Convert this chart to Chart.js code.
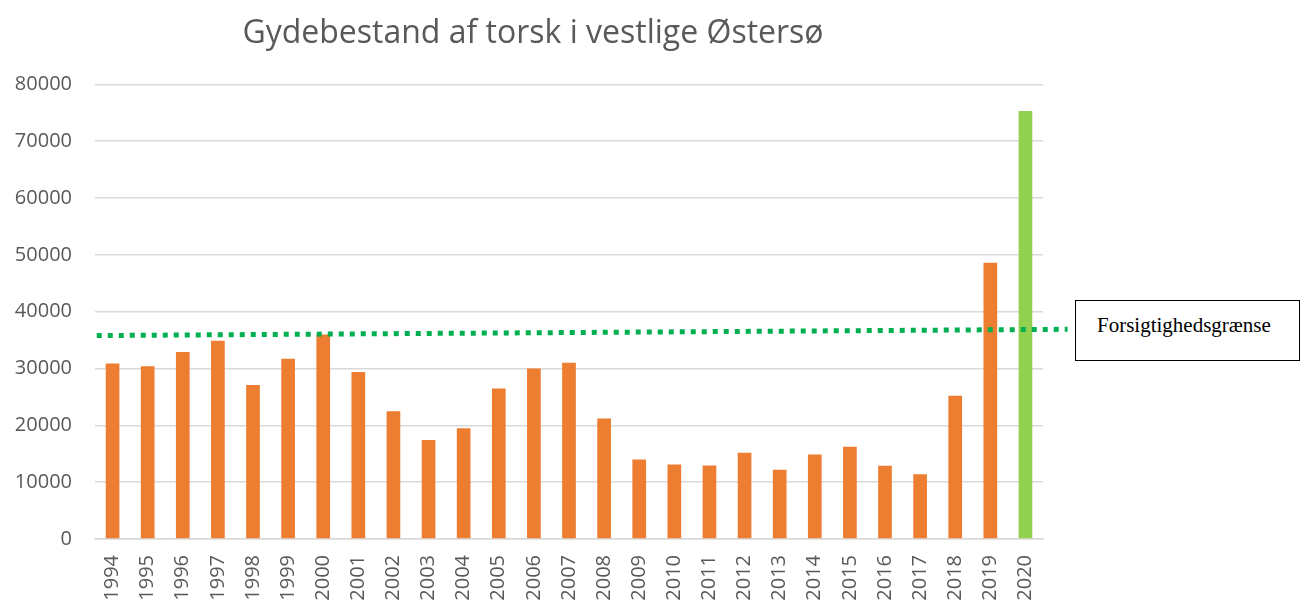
<!DOCTYPE html>
<html>
<head>
<meta charset="utf-8">
<script src="https://cdn.jsdelivr.net/npm/chart.js@4/dist/chart.umd.min.js"></script>
<style>
  body { margin: 0; background: #fff; }
  #wrap { position: relative; width: 1307px; height: 601px; overflow: hidden; }
  #box { position: absolute; left: 1075px; top: 300px; width: 225px; height: 61px;
         border: 1.5px solid #000; box-sizing: border-box; background: #fff;
         font-family: "Liberation Serif", "Times New Roman", serif; font-size: 21px;
         color: #000; padding: 12px 0 0 21px; }
</style>
</head>
<body>
<div id="wrap">
  <div style="position:absolute;left:0;top:0;width:1072px;height:601px;">
    <canvas id="chart"></canvas>
  </div>
  <div id="box">Forsigtighedsgrænse</div>
</div>
<script>
// gydebestand (tons) pr. år
var years = ['1994', '1995', '1996', '1997', '1998', '1999', '2000', '2001', '2002',
	'2003', '2004', '2005', '2006', '2007', '2008', '2009', '2010', '2011', '2012',
	'2013', '2014', '2015', '2016', '2017', '2018', '2019', '2020'];
var biomass = [30900, 30400, 32900, 34900, 27100, 31700, 36000, 29400, 22500,
	17400, 19500, 26500, 30000, 31000, 21200, 14000, 13100, 12950, 15200,
	12200, 14850, 16250, 12900, 11400, 25200, 48600, 75300];
// forsigtighedsgrænse, drawn across the whole plot
var limitYears = [1993.55, 2021.2];
var limitValues = [35800, 36900];
var yTicks = [0, 10000, 20000, 30000, 40000, 50000, 60000, 70000, 80000];

var barColors = years.map(function(y) {
	return y === '2020' ? '#92D050' : '#ED7D31';
});

var ctx = document.getElementById('chart');
new Chart(ctx, {
	type: 'bar',
	data: {
		labels: years,
		datasets: [
			{
				type: 'line',
				xAxisID: 'x2',
				order: 0,
				data: limitYears.map(function(x, i) { return {x: x, y: limitValues[i]}; }),
				borderColor: '#00B050',
				borderWidth: 5,
				borderDash: [5, 6],
				borderCapStyle: 'butt',
				pointRadius: 0,
				fill: false,
				clip: false
			},
			{
				order: 1,
				grouped: false,
				data: biomass,
				backgroundColor: barColors,
				barPercentage: 0.39,
				categoryPercentage: 1
			}
		]
	},
	options: {
		responsive: true,
		maintainAspectRatio: false,
		animation: false,
		layout: { padding: { left: 8, right: 14, top: 8, bottom: 0 } },
		plugins: {
			legend: { display: false },
			tooltip: { enabled: false },
			title: {
				display: true,
				text: 'Gydebestand af torsk i vestlige Østersø',
				color: '#595959',
				font: { family: 'Open Sans', size: 32, weight: 'normal' },
				padding: { top: 7, bottom: 31 }
			}
		},
		scales: {
			x: {
				grid: { display: false },
				border: { color: '#d9d9d9', width: 1.5 },
				ticks: {
					color: '#595959',
					font: { family: 'Open Sans', size: 20 },
					minRotation: 90,
					maxRotation: 90,
					padding: 8
				},
				afterFit: function(axis) { axis.height = 62; }
			},
			x2: {
				type: 'linear',
				display: false,
				offset: false,
				min: 1993.5,
				max: 2020.5
			},
			y: {
				min: 0,
				max: 80000,
				afterBuildTicks: function(axis) {
					axis.ticks = yTicks.map(function(v) { return {value: v}; });
				},
				afterFit: function(axis) { axis.width = 87; },
				grid: { color: '#d9d9d9', lineWidth: 1.5, drawTicks: false },
				border: { display: false },
				ticks: {
					color: '#595959',
					font: { family: 'Open Sans', size: 20 },
					padding: 23,
					callback: function(v) { return String(v); }
				}
			},
			// empty right-hand spacer so the title centres like the original
			y2: {
				position: 'right',
				grid: { display: false },
				border: { display: false },
				ticks: { display: false },
				afterFit: function(axis) { axis.width = 15; }
			}
		}
	}
});
</script>
</body>
</html>
